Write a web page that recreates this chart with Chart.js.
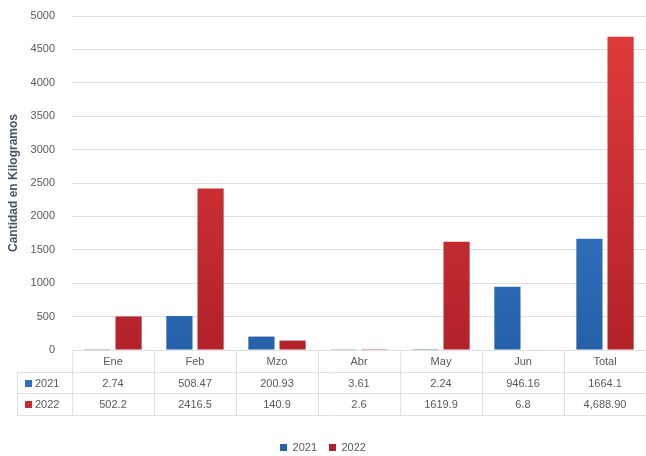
<!DOCTYPE html>
<html>
<head>
<meta charset="utf-8">
<script src="https://cdn.jsdelivr.net/npm/chart.js@4.4.0/dist/chart.umd.min.js"></script>
<style>
  html, body { margin: 0; padding: 0; background: #fff; overflow: hidden; }
  #wrap { width: 646px; height: 463px; position: relative; }
</style>
</head>
<body>
<div id="wrap"><canvas id="grafica"></canvas></div>
<script>
const meses = ['Ene', 'Feb', 'Mzo', 'Abr', 'May', 'Jun', 'Total'];
const series = ['2021', '2022'];
const valores2021 = [2.74, 508.47, 200.93, 3.61, 2.24, 946.16, 1664.1];
const valores2022 = [502.2, 2416.5, 140.9, 2.6, 1619.9, 6.8, 4688.9];
// textos de la tabla tal como aparecen
const textos2021 = ['2.74', '508.47', '200.93', '3.61', '2.24', '946.16', '1664.1'];
const textos2022 = ['502.2', '2416.5', '140.9', '2.6', '1619.9', '6.8', '4,688.90'];
const yMax = 5000;
const yPaso = 500;

const fuente = '"Liberation Sans", Arial, sans-serif';
const gris = '#595959';
const linea = '#e0e0e0';

function degradado(ctx, arriba, abajo) { // color de la barra con un leve degradado vertical
  const area = ctx.chart.chartArea;
  if (!area) return abajo;
  const g = ctx.chart.ctx.createLinearGradient(0, area.top, 0, area.bottom);
  g.addColorStop(0, arriba);
  g.addColorStop(1, abajo);
  return g;
}

const tablaDatos = { // dibuja la tabla de datos bajo el eje x
  id: 'tablaDatos',
  afterDraw(chart) {
    const ctx = chart.ctx;
    const x = chart.scales.x;
    const area = chart.chartArea;
    const ancho = x.width / meses.length;
    const top = area.bottom;
    const filas = [top + 22, top + 43, top + 65];
    const izq = 17;
    const filasTexto = [textos2021, textos2022];
    const colores = ['#2e6fc0', '#c52a2e'];

    ctx.save();
    ctx.strokeStyle = linea;
    ctx.lineWidth = 1;
    ctx.beginPath();
    ctx.moveTo(x.left, top + 0.5); ctx.lineTo(x.right, top + 0.5);
    filas.forEach(f => { ctx.moveTo(izq, f + 0.5); ctx.lineTo(x.right, f + 0.5); });
    ctx.moveTo(izq + 0.5, filas[0]); ctx.lineTo(izq + 0.5, filas[2]);
    for (let i = 0; i <= meses.length; i++) {
      const xx = Math.round(x.left + i * ancho) + 0.5;
      ctx.moveTo(xx, top); ctx.lineTo(xx, filas[2]);
    }
    ctx.stroke();

    ctx.font = '11px ' + fuente;
    ctx.textBaseline = 'middle';
    filasTexto.forEach((textos, r) => {
      const cy = (filas[r] + filas[r + 1]) / 2 + 1;
      ctx.fillStyle = colores[r];
      ctx.fillRect(izq + 8, Math.round(cy - 4), 7, 7);
      ctx.fillStyle = gris;
      ctx.textAlign = 'left';
      ctx.fillText(series[r], izq + 18, cy);
      ctx.textAlign = 'center';
      textos.forEach((t, i) => ctx.fillText(t, x.getPixelForValue(i), cy));
    });
    ctx.restore();
  }
};

new Chart(document.getElementById('grafica'), {
  type: 'bar',
  data: {
    labels: meses,
    datasets: [
      {
        label: series[0],
        data: valores2021,
        backgroundColor: ctx => degradado(ctx, '#3f87d8', '#2560a9')
      },
      {
        label: series[1],
        data: valores2022,
        backgroundColor: ctx => degradado(ctx, '#e03b3b', '#b3222a')
      }
    ]
  },
  options: {
    responsive: true,
    maintainAspectRatio: false,
    animation: false,
    datasets: { bar: { categoryPercentage: 0.76, barPercentage: 0.84 } },
    layout: { padding: { top: 16, right: 0, left: 0, bottom: 0 } },
    plugins: {
      tooltip: { enabled: false },
      legend: {
        position: 'bottom',
        labels: {
          boxWidth: 7,
          boxHeight: 7,
          padding: 12,
          color: gris,
          font: { family: fuente, size: 11 }
        }
      }
    },
    scales: {
      x: {
        grid: { display: false, drawTicks: false },
        border: { display: false },
        ticks: { color: gris, padding: 5, font: { family: fuente, size: 11 } },
        afterFit(scale) { scale.height = 80; }
      },
      y: {
        min: 0,
        max: yMax,
        ticks: {
          stepSize: yPaso,
          color: gris,
          padding: 0,
          font: { family: fuente, size: 11 },
          callback: v => String(v)
        },
        grid: { color: linea, drawTicks: true, tickLength: 17, tickColor: 'transparent' },
        border: { display: false },
        title: {
          display: true,
          text: 'Cantidad en Kilogramos',
          color: '#44546a',
          padding: { top: 6, bottom: 0 },
          font: { family: fuente, size: 12, weight: 'bold' }
        },
        afterFit(scale) { scale.width = 72; }
      }
    }
  },
  plugins: [tablaDatos]
});
</script>
</body>
</html>
